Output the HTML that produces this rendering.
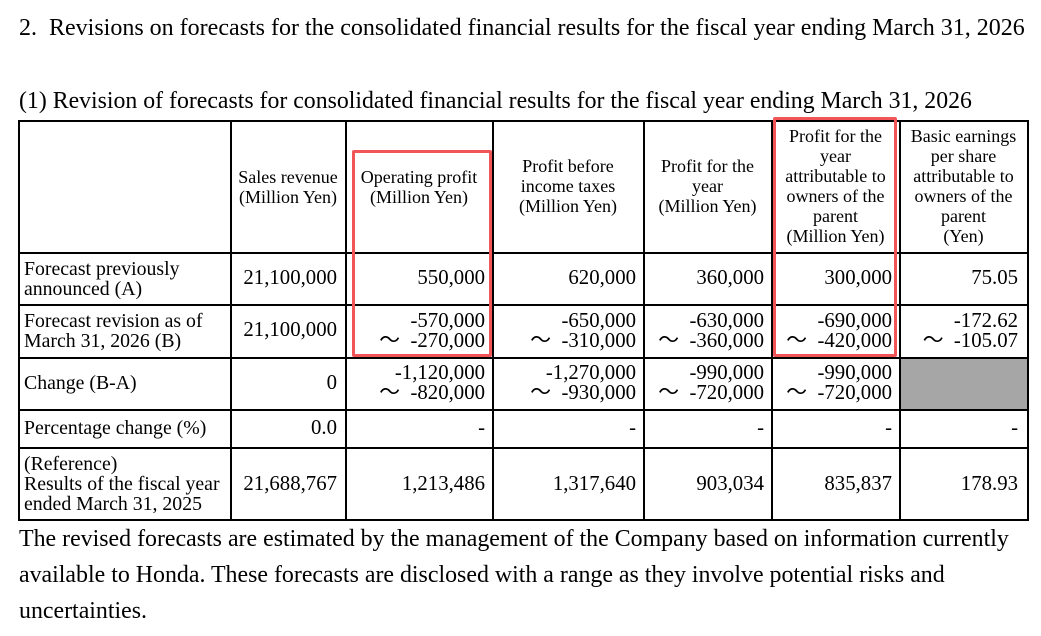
<!DOCTYPE html>
<html><head><meta charset="utf-8"><style>
body{margin:0;width:1041px;height:636px;background:#fff;position:relative;overflow:hidden;font-family:"Liberation Serif",serif;color:#000}
.a{position:absolute;white-space:nowrap}
.h{position:absolute;background:#000;height:1.5px}
.v{position:absolute;background:#000;width:1.5px}
.c{position:absolute;font-size:18px;line-height:20px;text-align:center;white-space:nowrap}
.r{position:absolute;font-size:20.8px;line-height:20px;text-align:right;white-space:nowrap}
.l{position:absolute;font-size:19.8px;line-height:20px;white-space:nowrap}
.box{position:absolute;border:3.5px solid #f25557;border-radius:2px}
</style></head><body>
<div class="a" style="left:19px;top:15px;font-size:24px">2.&nbsp;&nbsp;Revisions on forecasts for the consolidated financial results for the fiscal year ending March 31, 2026</div>
<div class="a" style="left:19px;top:88px;font-size:23.8px">(1) Revision of forecasts for consolidated financial results for the fiscal year ending March 31, 2026</div>

<div style="position:absolute;left:900px;top:357px;width:128px;height:52px;background:#a6a6a6"></div>

<div class="h" style="left:19px;width:1010px;top:120px"></div>
<div class="h" style="left:19px;width:1010px;top:252px"></div>
<div class="h" style="left:19px;width:1010px;top:304px"></div>
<div class="h" style="left:19px;width:1010px;top:357px"></div>
<div class="h" style="left:19px;width:1010px;top:409px"></div>
<div class="h" style="left:19px;width:1010px;top:447px"></div>
<div class="h" style="left:19px;width:1010px;top:519px"></div>
<div class="v" style="left:18px;top:120px;height:401px"></div>
<div class="v" style="left:230px;top:120px;height:401px"></div>
<div class="v" style="left:345px;top:120px;height:401px"></div>
<div class="v" style="left:492px;top:120px;height:401px"></div>
<div class="v" style="left:643px;top:120px;height:401px"></div>
<div class="v" style="left:771px;top:120px;height:401px"></div>
<div class="v" style="left:899px;top:120px;height:401px"></div>
<div class="v" style="left:1027px;top:120px;height:401px"></div>

<div class="c" style="left:231px;width:114px;top:167px">Sales revenue<br>(Million Yen)</div>
<div class="c" style="left:353px;width:132px;top:167px">Operating profit<br>(Million Yen)</div>
<div class="c" style="left:493px;width:150px;top:156px">Profit before<br>income taxes<br>(Million Yen)</div>
<div class="c" style="left:644px;width:127px;top:156px">Profit for the<br>year<br>(Million Yen)</div>
<div class="c" style="left:772px;width:127px;top:126px">Profit for the<br>year<br>attributable to<br>owners of the<br>parent<br>(Million Yen)</div>
<div class="c" style="left:900px;width:127px;top:126px">Basic earnings<br>per share<br>attributable to<br>owners of the<br>parent<br>(Yen)</div>

<div class="l" style="left:24px;top:259px">Forecast previously<br>announced (A)</div>
<div class="l" style="left:24px;top:311px">Forecast revision as of<br>March 31, 2026 (B)</div>
<div class="l" style="left:24px;top:373px">Change (B-A)</div>
<div class="l" style="left:24px;top:418px">Percentage change (%)</div>
<div class="l" style="left:24px;top:454px">(Reference)<br>Results of the fiscal year<br>ended March 31, 2025</div>

<div class="r" style="right:704px;top:268px">21,100,000</div>
<div class="r" style="right:556px;top:268px">550,000</div>
<div class="r" style="right:405px;top:268px">620,000</div>
<div class="r" style="right:277px;top:268px">360,000</div>
<div class="r" style="right:149px;top:268px">300,000</div>
<div class="r" style="right:23px;top:268px">75.05</div>

<div class="r" style="right:704px;top:320px">21,100,000</div>
<div class="r" style="right:556px;top:311px">-570,000<br>～&nbsp;&nbsp;-270,000</div>
<div class="r" style="right:405px;top:311px">-650,000<br>～&nbsp;&nbsp;-310,000</div>
<div class="r" style="right:277px;top:311px">-630,000<br>～&nbsp;&nbsp;-360,000</div>
<div class="r" style="right:149px;top:311px">-690,000<br>～&nbsp;&nbsp;-420,000</div>
<div class="r" style="right:23px;top:311px">-172.62<br>～&nbsp;&nbsp;-105.07</div>

<div class="r" style="right:704px;top:373px">0</div>
<div class="r" style="right:556px;top:363px">-1,120,000<br>～&nbsp;&nbsp;-820,000</div>
<div class="r" style="right:405px;top:363px">-1,270,000<br>～&nbsp;&nbsp;-930,000</div>
<div class="r" style="right:277px;top:363px">-990,000<br>～&nbsp;&nbsp;-720,000</div>
<div class="r" style="right:149px;top:363px">-990,000<br>～&nbsp;&nbsp;-720,000</div>

<div class="r" style="right:704px;top:418px">0.0</div>
<div class="r" style="right:556px;top:418px">-</div>
<div class="r" style="right:405px;top:418px">-</div>
<div class="r" style="right:277px;top:418px">-</div>
<div class="r" style="right:149px;top:418px">-</div>
<div class="r" style="right:23px;top:418px">-</div>

<div class="r" style="right:704px;top:474px">21,688,767</div>
<div class="r" style="right:556px;top:474px">1,213,486</div>
<div class="r" style="right:405px;top:474px">1,317,640</div>
<div class="r" style="right:277px;top:474px">903,034</div>
<div class="r" style="right:149px;top:474px">835,837</div>
<div class="r" style="right:23px;top:474px">178.93</div>

<div class="box" style="left:352px;top:150px;width:134px;height:201px"></div>
<div class="box" style="left:773px;top:117px;width:118px;height:234px"></div>

<div class="a" style="left:19px;top:521px;font-size:23.9px;line-height:36px">The revised forecasts are estimated by the management of the Company based on information currently<br>available to Honda. These forecasts are disclosed with a range as they involve potential risks and<br>uncertainties.</div>
</body></html>
